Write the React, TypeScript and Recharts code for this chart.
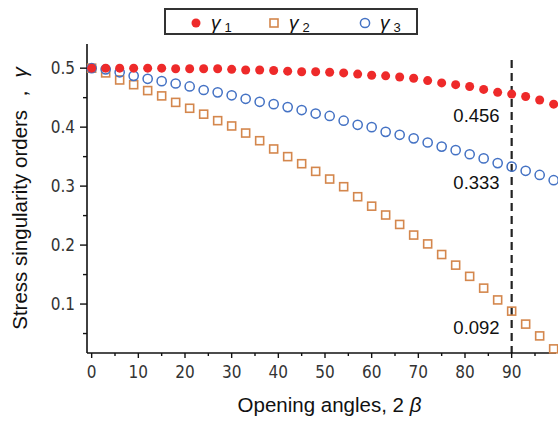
import React from "react";
import {
  ScatterChart,
  Scatter,
  XAxis,
  YAxis,
  ReferenceLine,
  ReferenceDot,
  Legend,
  Label,
} from "recharts";

// opening angle 2β (deg), sampled every 3 degrees
const angles = [
  0, 3, 6, 9, 12, 15, 18, 21, 24, 27, 30, 33, 36, 39, 42, 45, 48, 51, 54, 57,
  60, 63, 66, 69, 72, 75, 78, 81, 84, 87, 90, 93, 96, 99,
];

const gamma1 = [
  0.5, 0.5, 0.5, 0.5, 0.5, 0.5, 0.499, 0.499, 0.499, 0.499, 0.498, 0.497,
  0.497, 0.496, 0.495, 0.494, 0.494, 0.493, 0.492, 0.49, 0.488, 0.487, 0.485,
  0.483, 0.479, 0.475, 0.472, 0.469, 0.464, 0.459, 0.456, 0.452, 0.446, 0.439,
];

const gamma2 = [
  0.5, 0.492, 0.48, 0.472, 0.462, 0.453, 0.442, 0.432, 0.422, 0.411, 0.402,
  0.39, 0.377, 0.363, 0.35, 0.338, 0.325, 0.312, 0.299, 0.282, 0.266, 0.251,
  0.235, 0.217, 0.202, 0.184, 0.166, 0.147, 0.127, 0.107, 0.088, 0.066, 0.046,
  0.024,
];

const gamma3 = [
  0.5, 0.498, 0.493, 0.487, 0.482, 0.478, 0.474, 0.469, 0.463, 0.459, 0.454,
  0.448, 0.443, 0.439, 0.434, 0.429, 0.423, 0.419, 0.411, 0.404, 0.4, 0.392,
  0.387, 0.381, 0.374, 0.367, 0.361, 0.354, 0.347, 0.339, 0.333, 0.326, 0.319,
  0.31,
];

const xMajorTicks = [0, 10, 20, 30, 40, 50, 60, 70, 80, 90];
const xMinorTicks = [5, 15, 25, 35, 45, 55, 65, 75, 85, 95];
const yMajorTicks = [0.1, 0.2, 0.3, 0.4, 0.5];
const yMinorTicks = [0.05, 0.15, 0.25, 0.35, 0.45];

const markedAngle = 90;
const markedValues = [0.456, 0.333, 0.092];
const markedLabels = ["0.456", "0.333", "0.092"];

const X_DOMAIN = [-1, 99.5];
const Y_DOMAIN = [0.017, 0.541];

const RED = "#ee2a2a";
const ORANGE = "#d4874d";
const BLUE = "#4472c4";

const tickFont = "'DejaVu Sans Condensed', 'DejaVu Sans', sans-serif";
const textFont = "'Liberation Sans', Arial, sans-serif";

const toPoints = (values: number[]) =>
  angles.map((a, i) => ({ x: a, y: values[i] }));

const Dot = (p: any) => <circle cx={p.cx} cy={p.cy} r={4.5} fill={RED} />;
const Square = (p: any) => (
  <rect
    x={p.cx - 4}
    y={p.cy - 4}
    width={8}
    height={8}
    fill="none"
    stroke={ORANGE}
    strokeWidth={1.6}
  />
);
const Ring = (p: any) => (
  <circle cx={p.cx} cy={p.cy} r={4.6} fill="none" stroke={BLUE} strokeWidth={1.5} />
);

const XTick = (props: any) => {
  const { x, y, payload } = props;
  const major = xMajorTicks.includes(payload.value);
  return (
    <g>
      <line x1={x} x2={x} y1={y} y2={y + (major ? 5 : 3)} stroke="#111" strokeWidth={1.4} />
      {major && (
        <text x={x} y={y + 25} textAnchor="middle" fontFamily={tickFont} fontSize={17} fill="#333">
          {payload.value}
        </text>
      )}
    </g>
  );
};

const YTick = (props: any) => {
  const { x, y, payload } = props;
  const major = yMajorTicks.includes(payload.value);
  return (
    <g>
      <line x1={x} x2={x - (major ? 7 : 4)} y1={y} y2={y} stroke="#111" strokeWidth={1.4} />
      {major && (
        <text x={x - 12} y={y} dy="0.36em" textAnchor="end" fontFamily={tickFont} fontSize={17} fill="#333">
          {payload.value}
        </text>
      )}
    </g>
  );
};

const legendLeft = [24, 102, 193];
const LegendBox = () => {
  const markers = [
    <circle cx={6} cy={6} r={4.5} fill={RED} />,
    <rect x={2} y={2} width={8} height={8} fill="none" stroke={ORANGE} strokeWidth={1.6} />,
    <circle cx={6} cy={6} r={4.6} fill="none" stroke={BLUE} strokeWidth={1.5} />,
  ];
  return (
    <div
      style={{
        position: "relative",
        width: 254,
        height: 27,
        border: "2px solid #333",
        boxSizing: "border-box",
        background: "#fff",
      }}
    >
      {markers.map((m, i) => (
        <div
          key={i}
          style={{
            position: "absolute",
            left: legendLeft[i],
            top: 1,
            height: 24,
            display: "flex",
            alignItems: "center",
            fontFamily: textFont,
            color: "#111",
            whiteSpace: "nowrap",
          }}
        >
          <svg width={12} height={12} style={{ display: "block" }}>
            {m}
          </svg>
          <span style={{ marginLeft: 9, fontSize: 19, fontStyle: "italic" }}>γ</span>
          <span style={{ marginLeft: 4, fontSize: 13, position: "relative", top: 4 }}>
            {i + 1}
          </span>
        </div>
      ))}
    </div>
  );
};

const YTitle = (props: any) => {
  const vb = props.viewBox;
  const cx = vb.x + 19;
  const cy = vb.y + vb.height / 2;
  return (
    <text
      x={cx}
      y={cy}
      transform={`rotate(-90 ${cx} ${cy})`}
      textAnchor="middle"
      dominantBaseline="central"
      fontFamily={textFont}
      fontSize={20.5}
      fill="#111"
    >
      Stress singularity orders ，<tspan fontStyle="italic"> γ</tspan>
    </text>
  );
};

const XTitle = (props: any) => {
  const vb = props.viewBox;
  return (
    <text
      x={vb.x + vb.width / 2 + 8}
      y={vb.y + 59}
      textAnchor="middle"
      fontFamily={textFont}
      fontSize={20.5}
      fill="#111"
    >
      Opening angles, 2 <tspan fontStyle="italic">β</tspan>
    </text>
  );
};

const labelOffsets = [21, 16, 19];
const markLabel = (text: string, dy: number) => (props: any) => {
  const vb = props.viewBox;
  const cx = vb.x + (vb.width || 0) / 2;
  const cy = vb.y + (vb.height || 0) / 2;
  return (
    <text
      x={cx - 12}
      y={cy + dy}
      dy="0.36em"
      textAnchor="end"
      fontFamily={textFont}
      fontSize={18.5}
      fill="#111"
    >
      {text}
    </text>
  );
};

export default function App() {
  return (
    <div style={{ position: "absolute", left: 0, top: 0, background: "#fff" }}>
      <ScatterChart width={558} height={421} margin={{ top: 44, right: 2, bottom: 0, left: 0 }}>
        <XAxis
          type="number"
          dataKey="x"
          domain={X_DOMAIN}
          ticks={[...xMajorTicks, ...xMinorTicks].sort((a, b) => a - b)}
          interval={0}
          tickSize={0}
          tickMargin={0}
          tickLine={false}
          tick={<XTick />}
          height={68}
          axisLine={{ stroke: "#111", strokeWidth: 1.6 }}
        >
          <Label content={<XTitle />} />
        </XAxis>
        <XAxis
          xAxisId="top"
          orientation="top"
          type="number"
          domain={X_DOMAIN}
          height={0}
          tick={false}
          tickLine={false}
          axisLine={{ stroke: "#444", strokeWidth: 1.6 }}
        />
        <YAxis
          type="number"
          dataKey="y"
          domain={Y_DOMAIN}
          ticks={[...yMajorTicks, ...yMinorTicks].sort((a, b) => a - b)}
          interval={0}
          tickSize={0}
          tickMargin={0}
          tickLine={false}
          tick={<YTick />}
          width={87}
          axisLine={{ stroke: "#111", strokeWidth: 1.6 }}
        >
          <Label content={<YTitle />} />
        </YAxis>
        <YAxis
          yAxisId="right"
          orientation="right"
          type="number"
          domain={Y_DOMAIN}
          width={0}
          tick={false}
          tickLine={false}
          axisLine={{ stroke: "#999", strokeWidth: 1.2 }}
        />
        <Legend
          verticalAlign="middle"
          align="center"
          wrapperStyle={{ position: "absolute", left: 164, top: 8, width: 254, height: 27, margin: 0 }}
          content={() => <LegendBox />}
        />
        <ReferenceLine
          segment={[
            { x: markedAngle, y: 0.514 },
            { x: markedAngle, y: Y_DOMAIN[0] },
          ]}
          stroke="#222"
          strokeWidth={2.2}
          strokeDasharray="8 5"
        />
        <Scatter name="γ2" data={toPoints(gamma2)} shape={<Square />} isAnimationActive={false} />
        <Scatter name="γ3" data={toPoints(gamma3)} shape={<Ring />} isAnimationActive={false} />
        <Scatter name="γ1" data={toPoints(gamma1)} shape={<Dot />} isAnimationActive={false} />
        {markedValues.map((v, i) => (
          <ReferenceDot
            key={i}
            x={markedAngle}
            y={v}
            r={1}
            fill="none"
            stroke="none"
            label={markLabel(markedLabels[i], labelOffsets[i])}
          />
        ))}
      </ScatterChart>
    </div>
  );
}
